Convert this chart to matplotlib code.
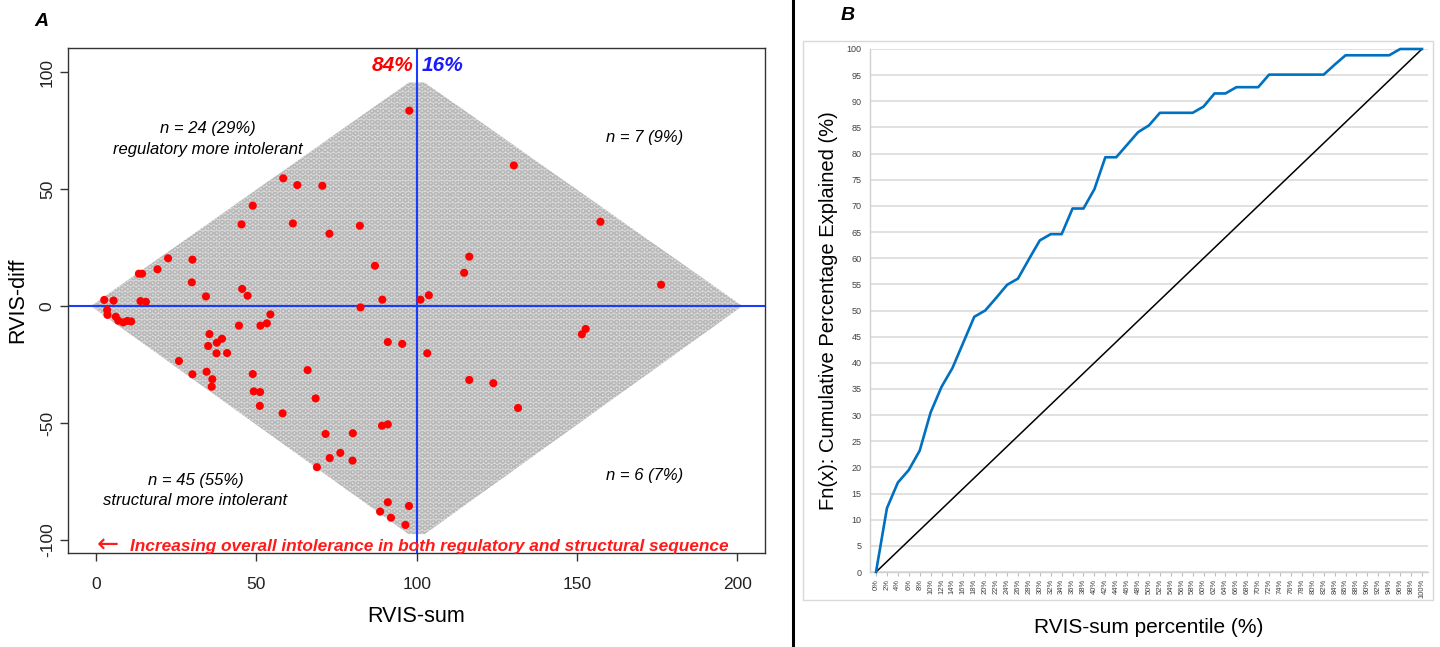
import matplotlib
matplotlib.use("Agg")
import matplotlib.pyplot as plt
from matplotlib.patches import Polygon, Rectangle
from matplotlib.lines import Line2D

plt.rcParams['font.family'] = ['Liberation Sans', 'DejaVu Sans']
plt.rcParams['axes.unicode_minus'] = False
plt.rcParams['hatch.linewidth'] = 0.9

# Outline of the genome-wide RVIS-sum / RVIS-diff cloud
cloud_sum = [-1.5, 97.5, 102.5, 201.5, 102.5, 97.5]
cloud_diff = [0, 95.5, 95.5, 0, -97.5, -97.5]

# Highlighted genes (RVIS-sum, RVIS-diff)
gene_sum = [97.7, 58.4, 62.8, 70.6, 48.9, 45.4, 61.4, 72.8, 82.3, 87.0, 89.3,
            22.5, 30.1, 13.4, 14.4, 19.2, 29.9, 45.6, 47.3, 34.3, 2.6, 5.5,
            13.9, 15.6,
            130.3, 157.3, 116.4, 114.8, 176.2, 101.2, 103.8,
            82.5, 3.5, 3.6, 6.2, 7.0, 8.5, 9.8, 54.4, 44.6, 51.3, 53.3, 35.4,
            39.3, 37.7, 35.0, 37.6, 40.9, 91.0, 95.5, 25.9, 66.0, 48.9, 30.1,
            34.5, 36.3, 36.1, 49.2, 51.2, 51.1, 68.5, 58.2, 89.2, 91.0, 71.6,
            80.1, 76.2, 72.9, 80.0, 68.9, 91.0, 97.6, 88.6, 92.0, 96.5, 11.0,
            152.7, 151.5, 103.3, 116.4, 123.9, 131.6]
gene_diff = [83.5, 54.6, 51.7, 51.4, 42.9, 34.9, 35.3, 30.9, 34.3, 17.2, 2.7,
             20.4, 19.8, 13.8, 13.8, 15.7, 10.1, 7.3, 4.4, 4.1, 2.6, 2.3,
             2.1, 1.8,
             60.1, 36.0, 21.1, 14.2, 9.1, 2.7, 4.6,
             -0.6, -1.7, -3.8, -4.6, -6.3, -7.0, -6.4, -3.6, -8.4, -8.4, -7.4,
             -12.0, -14.0, -15.7, -17.1, -20.2, -20.1, -15.4, -16.2, -23.5,
             -27.4, -29.1, -29.2, -28.1, -31.3, -34.5, -36.5, -36.8, -42.7,
             -39.5, -45.9, -51.2, -50.6, -54.7, -54.4, -62.8, -65.0, -66.1,
             -68.9, -83.9, -85.5, -87.9, -90.5, -93.6, -6.6,
             -9.8, -12.1, -20.2, -31.6, -33.0, -43.6]

# Cumulative share of genes explained by RVIS-sum percentile
pct = list(range(0, 101, 2))
explained = [0, 12.2, 17.1, 19.5, 23.2, 30.5, 35.4, 39.0, 43.9, 48.8, 50.0,
             52.4, 54.9, 56.1, 59.8, 63.4, 64.6, 64.6, 69.5, 69.5, 73.2, 79.3,
             79.3, 81.7, 84.1, 85.4, 87.8, 87.8, 87.8, 87.8, 89.0, 91.5, 91.5,
             92.7, 92.7, 92.7, 95.1, 95.1, 95.1, 95.1, 95.1, 95.1, 97.0, 98.8,
             98.8, 98.8, 98.8, 98.8, 100, 100, 100]

W, H = 1440, 647
fig = plt.figure(figsize=(W / 100, H / 100), dpi=100)


def px_axes(x0, y0, x1, y1):
    return fig.add_axes([x0 / W, 1 - y1 / H, (x1 - x0) / W, (y1 - y0) / H])


# ---- panel A ----
ax = px_axes(68, 48, 765, 553)
ax.add_patch(Polygon(list(zip(cloud_sum, cloud_diff)), closed=True,
                     facecolor='#dadada', edgecolor='#b9b9b9', hatch='OOO',
                     linewidth=0, zorder=1))
ax.axhline(0, color='#1a3cff', lw=1.5, zorder=2)
ax.axvline(100, color='#1a3cff', lw=1.5, zorder=2)
ax.scatter(gene_sum, gene_diff, s=34, color='#ff0000', edgecolors='none', zorder=3)

ax.set_xlim(-8.7, 208.6)
ax.set_ylim(-105.6, 110.3)
ax.set_xticks([0, 50, 100, 150, 200])
ax.set_yticks([-100, -50, 0, 50, 100])
ax.tick_params(direction='out', length=6, width=1, color='#333333',
               labelsize=12.5, labelcolor='#222222')
ax.tick_params(axis='x', pad=11)
for lab in ax.get_yticklabels():
    lab.set_rotation(90)
    lab.set_va('center')
for sp in ax.spines.values():
    sp.set_color('#333333')
    sp.set_linewidth(1)
ax.set_xlabel('RVIS-sum', fontsize=15.5, labelpad=10)
ax.set_ylabel('RVIS-diff', fontsize=15.5, labelpad=8)

ax.text(99, 107, '84%', color='#ff0000', fontsize=15, fontweight='bold',
        style='italic', ha='right', va='top')
ax.text(101.5, 107, '16%', color='#1a1aff', fontsize=15, fontweight='bold',
        style='italic', ha='left', va='top')
ax.text(35, 71.4, 'n = 24 (29%)\nregulatory more intolerant', fontsize=12,
        style='italic', ha='center', va='center', linespacing=1.45)
ax.text(171, 72, 'n = 7 (9%)', fontsize=12, style='italic', ha='center', va='center')
ax.text(31, -79, 'n = 45 (55%)\nstructural more intolerant', fontsize=12,
        style='italic', ha='center', va='center', linespacing=1.45)
ax.text(171, -72.6, 'n = 6 (7%)', fontsize=12, style='italic', ha='center', va='center')
ax.text(0.3, -102.6, '\u2190', color='#ff1a1a', fontsize=19, family='DejaVu Sans',
        ha='left', va='center')
ax.text(10.7, -103, 'Increasing overall intolerance in both regulatory and structural sequence',
        color='#ff1a1a', fontsize=12.4, fontweight='bold', style='italic',
        ha='left', va='center')

# ---- panel B ----
bx = px_axes(870, 49, 1428, 572)
bx.plot(pct, explained, color='#0070c0', lw=1.9, zorder=3, clip_on=False)
bx.plot([0, 100], [0, 100], color='black', lw=1.1, zorder=2)
bx.set_xlim(-1.1, 101.1)
bx.set_ylim(0, 100)
bx.set_yticks(range(0, 101, 5))
bx.set_xticks(pct)
bx.set_xticklabels([f'{p}%' for p in pct], rotation=90, fontsize=5.5,
                   color='#404040')
bx.tick_params(axis='y', length=0, labelsize=6.5, labelcolor='#404040', pad=6)
bx.tick_params(axis='x', length=3, color='#bfbfbf', pad=2)
bx.grid(axis='y', color='#d9d9d9', lw=1.1)
bx.set_axisbelow(True)
for name, sp in bx.spines.items():
    if name in ('top', 'right'):
        sp.set_visible(False)
    else:
        sp.set_color('#d0d0d0')
        sp.set_linewidth(1)
bx.set_xlabel('RVIS-sum percentile (%)', fontsize=15, labelpad=14)
bx.set_ylabel('Fn(x): Cumulative Percentage Explained (%)', fontsize=14.5,
              labelpad=6)

# frame around panel B and the divider between panels
fig.add_artist(Rectangle((803 / W, 1 - 600 / H), (1433 - 803) / W, (600 - 41) / H,
                         fill=False, edgecolor='#d9d9d9', lw=1,
                         transform=fig.transFigure))
fig.add_artist(Line2D([793 / W, 793 / W], [0, 1], color='black', lw=2.2,
                      transform=fig.transFigure))

fig.text(41 / W, 1 - 22 / H, 'A', fontsize=14, fontweight='bold', style='italic',
         ha='center', va='center')
fig.text(848 / W, 1 - 15 / H, 'B', fontsize=14, fontweight='bold', style='italic',
         ha='center', va='center')

fig.savefig('out.png', dpi=100)
